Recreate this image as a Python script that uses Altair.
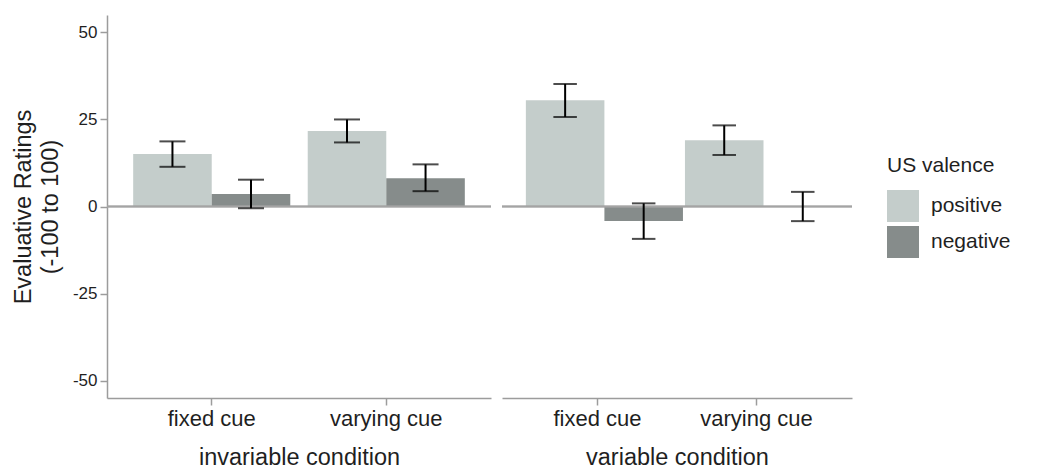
import altair as alt
import pandas as pd

panels = ["invariable condition", "variable condition"]
cues = ["fixed cue", "varying cue"]
valences = ["positive", "negative"]
colors = ["#c4cdcb", "#868c8b"]

# order: fixed/positive, fixed/negative, varying/positive, varying/negative
inv_mean = [15.1, 3.6, 21.7, 8.1]
inv_lo = [11.4, -0.5, 18.4, 4.4]
inv_hi = [18.7, 7.7, 25.0, 12.1]

var_mean = [30.5, -4.2, 19.0, 0.0]
var_lo = [25.7, -9.3, 14.8, -4.2]
var_hi = [35.2, 0.9, 23.3, 4.2]

y_ticks = [-50, -25, 0, 25, 50]
y_title = ["Evaluative Ratings", "(-100 to 100)"]

TEXT = "#1f1f1f"
AXIS = "#9c9c9c"


def make_df(mean, lo, hi):
    rows = []
    i = 0
    for c in cues:
        for v in valences:
            rows.append({"cue": c, "valence": v, "mean": mean[i], "lo": lo[i], "hi": hi[i]})
            i += 1
    return pd.DataFrame(rows)


yscale = alt.Scale(domain=[-55, 55], nice=False)


def panel(df, title, width, cap, show_y, show_legend):
    x = alt.X(
        "cue:N",
        sort=cues,
        title=title,
        scale=alt.Scale(paddingInner=0.1, paddingOuter=0.15),
        axis=alt.Axis(
            labelAngle=0,
            labelFontSize=22,
            labelPadding=3,
            tickSize=7,
            tickColor=AXIS,
            tickWidth=1.5,
            domainColor=AXIS,
            domainWidth=1.5,
            titleFontSize=23.5,
            titlePadding=16,
            titleFontWeight="normal",
            labelColor=TEXT,
            titleColor=TEXT,
        ),
    )
    xo = alt.XOffset("valence:N", sort=valences,
                     scale=alt.Scale(paddingInner=0, paddingOuter=0))
    if show_y:
        yaxis = alt.Axis(
            values=y_ticks,
            labelExpr="'' + datum.value",
            title=y_title,
            grid=False,
            tickSize=7,
            tickColor=AXIS,
            tickWidth=1.5,
            domainColor=AXIS,
            domainWidth=1.5,
            labelFontSize=17,
            labelPadding=3,
            labelColor=TEXT,
            titleFontSize=23.5,
            titleLineHeight=27,
            titlePadding=10,
            titleFontWeight="normal",
            titleColor=TEXT,
        )
    else:
        yaxis = None

    if show_legend:
        legend = alt.Legend(
            orient="none",
            legendX=385,
            legendY=140,
            title="US valence",
            titleFontSize=21,
            titleFontWeight="normal",
            titleColor=TEXT,
            titlePadding=14,
            labelFontSize=21,
            labelColor=TEXT,
            labelOffset=12,
            symbolType="square",
            symbolSize=1024,
            symbolStrokeWidth=0,
            rowPadding=4,
        )
    else:
        legend = None

    base = alt.Chart(df)
    bars = base.mark_bar().encode(
        x=x,
        xOffset=xo,
        y=alt.Y("mean:Q", scale=yscale, axis=yaxis),
        color=alt.Color(
            "valence:N",
            sort=valences,
            scale=alt.Scale(domain=valences, range=colors),
            legend=legend,
        ),
    )
    zero = base.mark_rule(color="#a4a4a4", strokeWidth=1.5).encode(y=alt.datum(0))
    err = base.mark_rule(color="black", strokeWidth=2).encode(
        x=x, xOffset=xo, y=alt.Y("lo:Q", scale=yscale), y2="hi:Q"
    )
    cap_lo = base.mark_tick(color="black", thickness=2, size=cap).encode(
        x=x, xOffset=xo, y=alt.Y("lo:Q", scale=yscale)
    )
    cap_hi = base.mark_tick(color="black", thickness=2, size=cap).encode(
        x=x, xOffset=xo, y=alt.Y("hi:Q", scale=yscale)
    )
    return alt.layer(bars, zero, err, cap_lo, cap_hi).properties(width=width, height=383)


left = panel(make_df(inv_mean, inv_lo, inv_hi), panels[0], 384, 26, True, False)
right = panel(make_df(var_mean, var_lo, var_hi), panels[1], 350, 23.5, False, True)

chart = (
    alt.hconcat(left, right, spacing=9)
    .resolve_scale(color="independent")
    .properties(padding={"left": 3, "top": 7, "right": 5, "bottom": 0})
    .configure(font="Liberation Sans")
    .configure_view(stroke=None)
)

chart.save("out.html", embed_options={"renderer": "svg", "actions": False})
